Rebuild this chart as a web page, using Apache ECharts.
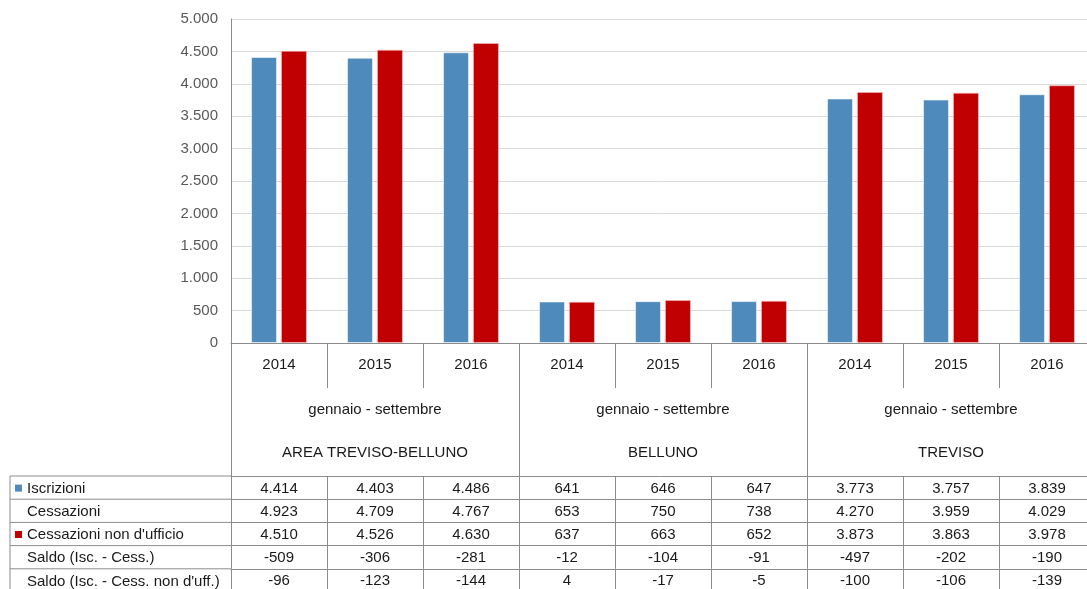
<!DOCTYPE html>
<html>
<head>
<meta charset="utf-8">
<script src="https://cdn.jsdelivr.net/npm/echarts@6/dist/echarts.min.js"></script>
<style>
html, body { margin: 0; padding: 0; background: #fff; overflow: hidden; }
#main { width: 1087px; height: 589px; }
</style>
</head>
<body>
<div id="main"></div>
<script>
var years = ['2014', '2015', '2016', '2014', '2015', '2016', '2014', '2015', '2016'];
var periods = ['gennaio - settembre', 'gennaio - settembre', 'gennaio - settembre'];
var areas = ['AREA TREVISO-BELLUNO', 'BELLUNO', 'TREVISO'];
var rowNames = ['Iscrizioni', 'Cessazioni', 'Cessazioni non d\'ufficio', 'Saldo (Isc. - Cess.)', 'Saldo (Isc. - Cess. non d\'uff.)'];
var iscrizioni = [4414, 4403, 4486, 641, 646, 647, 3773, 3757, 3839];
var cessazioni = [4923, 4709, 4767, 653, 750, 738, 4270, 3959, 4029];
var nonUfficio = [4510, 4526, 4630, 637, 663, 652, 3873, 3863, 3978];
var saldoCess = [-509, -306, -281, -12, -104, -91, -497, -202, -190];
var saldoNonUff = [-96, -123, -144, 4, -17, -5, -100, -106, -139];
var tableRows = [iscrizioni, cessazioni, nonUfficio, saldoCess, saldoNonUff];

var blue = '#4f8abd';
var red = '#c00000';
var lineColor = '#8c8c8c';
var font = '"Liberation Sans", Arial, sans-serif';
var fs = 15;

// formato italiano 4.414
function fmt(v) {
	var s = String(Math.abs(v)).replace(/\B(?=(\d{3})+(?!\d))/g, '.');
	return (v < 0 ? '-' : '') + s;
}

var gridTop = 19, gridLeft = 231;
var axisY = 343;
var tableOff = 133;                // da asse a tabella
var rowH = 23.2;
var tableTop = axisY + tableOff;

var xAxes = [{
	type: 'category',
	data: years,
	position: 'bottom',
	axisLine: { lineStyle: { color: lineColor } },
	axisTick: { show: true, interval: 0, length: 45, lineStyle: { color: lineColor } },
	axisLabel: { interval: 0, margin: 14, color: '#1a1a1a', fontSize: fs, fontFamily: font }
}, {
	type: 'category',
	data: periods,
	position: 'bottom',
	axisLine: { show: false },
	axisTick: { show: true, interval: 0, length: tableOff, lineStyle: { color: lineColor } },
	axisLabel: { interval: 0, margin: 59, color: '#1a1a1a', fontSize: fs, fontFamily: font }
}, {
	type: 'category',
	data: areas,
	position: 'bottom',
	axisLine: { show: false },
	axisTick: { show: false },
	axisLabel: { interval: 0, margin: 102, color: '#1a1a1a', fontSize: fs, fontFamily: font }
}];

for (var i = 0; i < tableRows.length; i++) {
	xAxes.push({
		type: 'category',
		data: tableRows[i].map(fmt),
		position: 'bottom',
		offset: tableOff + rowH * i,
		axisLine: { show: true, lineStyle: { color: lineColor } },
		axisTick: { show: true, interval: 0, length: i == tableRows.length - 1 ? 40 : rowH, lineStyle: { color: lineColor } },
		axisLabel: { interval: 0, margin: 5, color: '#1a1a1a', fontSize: fs, fontFamily: font }
	});
}

// colonna di sinistra della tabella
var graphics = [];
for (var i = 0; i <= tableRows.length; i++) {
	graphics.push({
		type: 'line',
		shape: { x1: 10, y1: tableTop + rowH * i, x2: gridLeft, y2: tableTop + rowH * i },
		style: { stroke: lineColor, lineWidth: 1 }
	});
}
graphics.push({
	type: 'line',
	shape: { x1: 10, y1: tableTop, x2: 10, y2: 600 },
	style: { stroke: lineColor, lineWidth: 1 }
});
for (var i = 0; i < rowNames.length; i++) {
	var cy = tableTop + rowH * i + rowH / 2 + 1;
	graphics.push({
		type: 'text',
		x: 27,
		y: cy,
		style: { text: rowNames[i], fill: '#1a1a1a', font: fs + 'px ' + font, verticalAlign: 'middle', textAlign: 'left' }
	});
	var key = i == 0 ? blue : (i == 2 ? red : null);
	if (key) {
		graphics.push({
			type: 'rect',
			shape: { x: 15, y: cy - 4, width: 7, height: 7 },
			style: { fill: key }
		});
	}
}

var option = {
	animation: false,
	grid: { left: gridLeft, top: gridTop, width: 864, height: axisY - gridTop, containLabel: false, outerBoundsMode: 'none' },
	xAxis: xAxes,
	yAxis: {
		type: 'value',
		min: 0,
		max: 5000,
		interval: 500,
		axisLine: { show: true, lineStyle: { color: lineColor } },
		axisTick: { show: false },
		axisLabel: { margin: 13, color: '#595959', fontSize: fs, fontFamily: font, formatter: fmt },
		splitLine: { lineStyle: { color: '#d9d9d9' } }
	},
	series: [{
		name: 'Iscrizioni',
		type: 'bar',
		data: iscrizioni,
		barWidth: 26,
		barGap: '15%',
		itemStyle: { color: blue, borderColor: 'rgba(255,255,255,0.55)', borderWidth: 1 }
	}, {
		name: 'Cessazioni non d\'ufficio',
		type: 'bar',
		data: nonUfficio,
		barWidth: 26,
		barGap: '15%',
		itemStyle: { color: red, borderColor: 'rgba(255,190,190,0.6)', borderWidth: 1 }
	}],
	graphic: graphics
};

var chart = echarts.init(document.getElementById('main'));
chart.setOption(option);
</script>
</body>
</html>
